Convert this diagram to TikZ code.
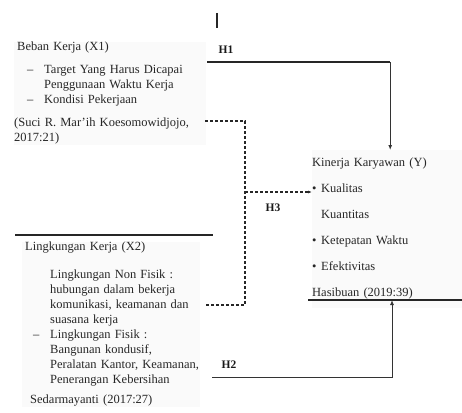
\documentclass[tikz,border=0pt]{standalone}
\usepackage{fontspec}
\setmainfont{Liberation Serif}
\usetikzlibrary{arrows.meta, positioning}

\begin{document}
\begin{tikzpicture}[x=1pt, y=-1pt,
        block/.style={anchor=north west, inner xsep=0pt, inner ysep=0pt, align=left, fill=black!2, font=\fontsize{12.5}{15}\selectfont, text=black!85},
        hlabel/.style={font=\fontsize{11.5}{13}\selectfont\bfseries, text=black!90},
        rule/.style={line width=1.3pt, black!85},
        arrow/.style={line width=1pt, black!80, -{Latex[length=5pt, width=4pt]}},
        dashline/.style={line width=1.4pt, dash pattern=on 3pt off 2pt, black!85}
    ]
        \useasboundingbox (0,0) rectangle (462,412);

        % variable blocks
        \node (beban) [block, text width=192pt] at (14,42) {%
            \hspace*{3pt}Beban Kerja (X1)\\[8pt]
            \hspace*{13pt}\makebox[17pt][l]{--}Target Yang Harus Dicapai\\
            \hspace*{30pt}Penggunaan Waktu Kerja\\
            \hspace*{13pt}\makebox[17pt][l]{--}Kondisi Pekerjaan\\[8pt]
            (Suci R. Mar'ih Koesomowidjojo,\\
            2017:21)};
        \node (lingkungan) [block, text width=178pt] at (22,242) {%
            \hspace*{3pt}Lingkungan Kerja (X2)\\[13pt]
            \hspace*{28pt}Lingkungan Non Fisik :\\
            \hspace*{28pt}hubungan dalam bekerja\\
            \hspace*{28pt}komunikasi, keamanan dan\\
            \hspace*{28pt}suasana kerja\\
            \hspace*{11pt}\makebox[17pt][l]{--}Lingkungan Fisik :\\
            \hspace*{28pt}Bangunan kondusif,\\
            \hspace*{28pt}Peralatan Kantor, Keamanan,\\
            \hspace*{28pt}Penerangan Kebersihan\\[5pt]
            \hspace*{8pt}Sedarmayanti (2017:27)};
        \node (kinerja) [block, text width=156pt, inner ysep=8pt] at (312,150) {%
            Kinerja Karyawan (Y)\\[11pt]
            \makebox[9pt][l]{\textbullet}Kualitas\\[11pt]
            \hspace*{9pt}Kuantitas\\[11pt]
            \makebox[9pt][l]{\textbullet}Ketepatan Waktu\\[11pt]
            \makebox[9pt][l]{\textbullet}Efektivitas\\[11pt]
            Hasibuan (2019:39)};

        % rules
        \draw [rule] (217,13) -- (217,28);
        \draw [rule] (15,235) -- (213,235);
        \draw [rule] (308,300) -- (462,300);

        % hypotheses
        \coordinate (hstart) at (207,62);
        \coordinate (hcorner) at (kinerja.north |- hstart);
        \draw [rule] (hstart) -- (hcorner);
        \draw [arrow] (hcorner) -- (kinerja.north);
        \node (hone) [hlabel] at (226,50) {H1};

        \coordinate (dtop) at (205,121);
        \coordinate (dbottom) at (205,305);
        \coordinate (djoin) at (245,192);
        \draw [dashline] (dtop) -| (djoin) |- (dbottom);
        \draw [dashline, -{Latex[length=4pt, width=3pt]}] (djoin) -- (kinerja.west |- djoin);
        \node (hthree) [hlabel] at (273,208) {H3};

        \coordinate (hend) at (212,377);
        \coordinate (ybase) at (392,300);
        \draw [arrow, line width=0.9pt] (hend) -| (ybase);
        \node (htwo) [hlabel] at (229,365) {H2};
    \end{tikzpicture}
\end{document}
